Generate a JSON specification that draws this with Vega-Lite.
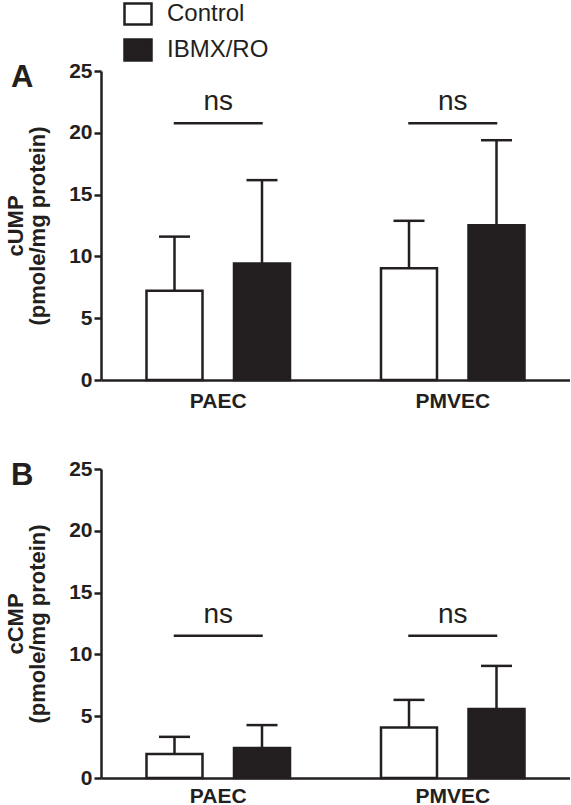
{
  "$schema": "https://vega.github.io/schema/vega-lite/v6.json",
  "padding": {"left": 4, "top": -1, "right": 0, "bottom": 0},
  "autosize": {"type": "pad"},
  "background": "white",
  "datasets": {
    "cump": [
      {"group": "PAEC", "treatment": "Control", "mean": 7.22, "upper": 11.6},
      {"group": "PAEC", "treatment": "IBMX/RO", "mean": 9.43, "upper": 16.17},
      {"group": "PMVEC", "treatment": "Control", "mean": 9.05, "upper": 12.88},
      {"group": "PMVEC", "treatment": "IBMX/RO", "mean": 12.53, "upper": 19.4}
    ],
    "ccmp": [
      {"group": "PAEC", "treatment": "Control", "mean": 1.94, "upper": 3.33},
      {"group": "PAEC", "treatment": "IBMX/RO", "mean": 2.42, "upper": 4.28},
      {"group": "PMVEC", "treatment": "Control", "mean": 4.09, "upper": 6.32},
      {"group": "PMVEC", "treatment": "IBMX/RO", "mean": 5.59, "upper": 9.07}
    ],
    "nsA": [
      {"group": "PAEC", "y": 20.78, "label": "ns"},
      {"group": "PMVEC", "y": 20.78, "label": "ns"}
    ],
    "nsB": [
      {"group": "PAEC", "y": 11.5, "label": "ns"},
      {"group": "PMVEC", "y": 11.5, "label": "ns"}
    ]
  },
  "spacing": 47,
  "vconcat": [
    {
      "width": 469,
      "height": 309,
      "title": {"text": "A", "anchor": "start", "frame": "group", "dx": -90, "dy": 58, "offset": 0, "baseline": "alphabetic", "fontSize": 31, "fontWeight": "bold", "font": "Liberation Sans", "color": "#231f20"},
      "layer": [
        {
          "data": {"name": "cump"},
          "mark": {"type": "bar", "stroke": "#231f20", "strokeWidth": 2.5},
          "encoding": {
            "x": {"field": "group", "type": "nominal", "scale": {"paddingInner": 0, "paddingOuter": 0}, "axis": {"title": null, "labelAngle": 0, "ticks": false, "tickSize": 0, "labelPadding": 10}},
            "xOffset": {"field": "treatment", "type": "nominal", "scale": {"paddingInner": 0.36, "paddingOuter": 0.52}},
            "y": {"field": "mean", "type": "quantitative", "scale": {"domain": [0, 25], "nice": false}, "axis": {"values": [0, 5, 10, 15, 20, 25], "title": ["cUMP", "(pmole/mg protein)"]}},
            "fill": {"field": "treatment", "type": "nominal", "scale": {"domain": ["Control", "IBMX/RO"], "range": ["#ffffff", "#231f20"]}, "title": null}
          }
        },
        {
          "data": {"name": "cump"},
          "mark": {"type": "rule", "stroke": "#231f20", "strokeWidth": 2.5},
          "encoding": {
            "x": {"field": "group", "type": "nominal"},
            "xOffset": {"field": "treatment", "type": "nominal"},
            "y": {"field": "mean", "type": "quantitative"},
            "y2": {"field": "upper"}
          }
        },
        {
          "data": {"name": "cump"},
          "mark": {"type": "tick", "color": "#231f20", "size": 31, "thickness": 2.5, "opacity": 1},
          "encoding": {
            "x": {"field": "group", "type": "nominal"},
            "xOffset": {"field": "treatment", "type": "nominal"},
            "y": {"field": "upper", "type": "quantitative"}
          }
        },
        {
          "data": {"name": "nsA"},
          "mark": {"type": "tick", "color": "#231f20", "size": 89, "thickness": 2.5, "opacity": 1},
          "encoding": {
            "x": {"field": "group", "type": "nominal"},
            "y": {"field": "y", "type": "quantitative"}
          }
        },
        {
          "data": {"name": "nsA"},
          "mark": {"type": "text", "dy": -13, "baseline": "alphabetic", "fontSize": 28, "font": "Liberation Sans", "color": "#231f20"},
          "encoding": {
            "x": {"field": "group", "type": "nominal"},
            "y": {"field": "y", "type": "quantitative"},
            "text": {"field": "label"}
          }
        }
      ]
    },
    {
      "width": 469,
      "height": 309,
      "title": {"text": "B", "anchor": "start", "frame": "group", "dx": -90, "dy": 58, "offset": 0, "baseline": "alphabetic", "fontSize": 31, "fontWeight": "bold", "font": "Liberation Sans", "color": "#231f20"},
      "layer": [
        {
          "data": {"name": "ccmp"},
          "mark": {"type": "bar", "stroke": "#231f20", "strokeWidth": 2.5},
          "encoding": {
            "x": {"field": "group", "type": "nominal", "scale": {"paddingInner": 0, "paddingOuter": 0}, "axis": {"title": null, "labelAngle": 0, "ticks": false, "tickSize": 0, "labelPadding": 7}},
            "xOffset": {"field": "treatment", "type": "nominal", "scale": {"paddingInner": 0.36, "paddingOuter": 0.52}},
            "y": {"field": "mean", "type": "quantitative", "scale": {"domain": [0, 25], "nice": false}, "axis": {"values": [0, 5, 10, 15, 20, 25], "title": ["cCMP", "(pmole/mg protein)"]}},
            "fill": {"field": "treatment", "type": "nominal", "scale": {"domain": ["Control", "IBMX/RO"], "range": ["#ffffff", "#231f20"]}, "title": null}
          }
        },
        {
          "data": {"name": "ccmp"},
          "mark": {"type": "rule", "stroke": "#231f20", "strokeWidth": 2.5},
          "encoding": {
            "x": {"field": "group", "type": "nominal"},
            "xOffset": {"field": "treatment", "type": "nominal"},
            "y": {"field": "mean", "type": "quantitative"},
            "y2": {"field": "upper"}
          }
        },
        {
          "data": {"name": "ccmp"},
          "mark": {"type": "tick", "color": "#231f20", "size": 31, "thickness": 2.5, "opacity": 1},
          "encoding": {
            "x": {"field": "group", "type": "nominal"},
            "xOffset": {"field": "treatment", "type": "nominal"},
            "y": {"field": "upper", "type": "quantitative"}
          }
        },
        {
          "data": {"name": "nsB"},
          "mark": {"type": "tick", "color": "#231f20", "size": 89, "thickness": 2.5, "opacity": 1},
          "encoding": {
            "x": {"field": "group", "type": "nominal"},
            "y": {"field": "y", "type": "quantitative"}
          }
        },
        {
          "data": {"name": "nsB"},
          "mark": {"type": "text", "dy": -13, "baseline": "alphabetic", "fontSize": 28, "font": "Liberation Sans", "color": "#231f20"},
          "encoding": {
            "x": {"field": "group", "type": "nominal"},
            "y": {"field": "y", "type": "quantitative"},
            "text": {"field": "label"}
          }
        }
      ]
    }
  ],
  "config": {
    "view": {"stroke": null},
    "font": "Liberation Sans",
    "axis": {
      "grid": false,
      "domainColor": "#231f20",
      "domainWidth": 2.5,
      "tickColor": "#231f20",
      "tickWidth": 2.5,
      "tickSize": 7,
      "labelFont": "Liberation Sans",
      "labelFontWeight": "bold",
      "labelFontSize": 21,
      "labelColor": "#231f20",
      "labelPadding": 2,
      "titleFont": "Liberation Sans",
      "titleFontWeight": "bold",
      "titleFontSize": 22,
      "titleColor": "#231f20",
      "titleLineHeight": 22,
      "titlePadding": 19
    },
    "legend": {
      "orient": "none",
      "legendX": 22,
      "legendY": -72,
      "padding": 0,
      "symbolType": "M-1,-0.78H1V0.78H-1Z",
      "symbolSize": 729,
      "symbolStrokeColor": "#231f20",
      "symbolStrokeWidth": 2.5,
      "labelFont": "Liberation Sans",
      "labelFontSize": 24,
      "labelColor": "#231f20",
      "labelOffset": 14,
      "rowPadding": 4,
      "labelLimit": 300
    }
  }
}
